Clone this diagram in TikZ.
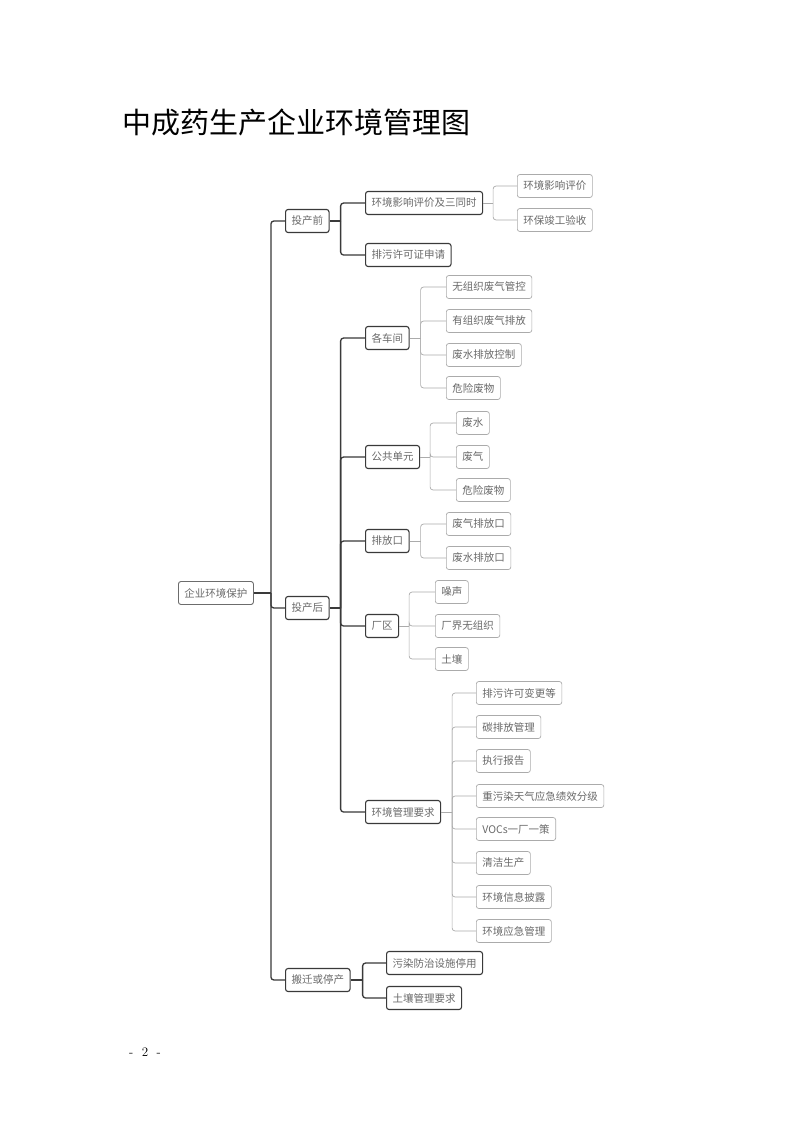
\documentclass[tikz,border=0pt]{standalone}
\usepackage{fontspec}
\newfontfamily\cjk{Noto Sans CJK SC}
\definecolor{darkline}{HTML}{3A3A3A}
\definecolor{lightline}{HTML}{ABABAB}
\definecolor{txtgray}{HTML}{6A6A6A}
\begin{document}
\begin{tikzpicture}[x=1pt,y=-1pt,
  box/.style={rounded corners=2.5pt, minimum height=23pt, inner xsep=6pt, inner ysep=0pt,
    font=\cjk\fontsize{10.5}{12}\selectfont, text=txtgray, anchor=west},
  dbox/.style={box, draw=darkline, line width=1.1pt},
  rbox/.style={box, draw=gray!85!black, line width=0.9pt},
  lbox/.style={box, draw=lightline, line width=0.7pt},
  dline/.style={draw=darkline, line width=1.3pt, rounded corners=3pt},
  lline/.style={draw=lightline, line width=0.7pt, rounded corners=3pt}]
\useasboundingbox (0,0) rectangle (793,1122);
\fill[white] (0,0) rectangle (793,1122);

% title and page number
\node[anchor=west, inner sep=0pt, font=\cjk\fontsize{29}{32}\selectfont] (title) at (122,122) {中成药生产企业环境管理图};
\node[anchor=center, inner sep=0pt, font=\fontsize{13}{15}\selectfont] (pg) at (145,1052) {-\ \ 2\ \ -};

% level 0
\node[rbox] (root) at (178,593) {企业环境保护};
% level 1
\node[dbox] (pre)  at (285,221) {投产前};
\node[dbox] (post) at (285,608) {投产后};
\node[dbox] (stop) at (285,980) {搬迁或停产};
% level 2 under pre
\node[dbox] (eia)  at (365,203) {环境影响评价及三同时};
\node[dbox] (perm) at (365,255) {排污许可证申请};
% level 3 under eia
\node[lbox] (eia1) at (517,186) {环境影响评价};
\node[lbox] (eia2) at (517,220) {环保竣工验收};
% level 2 under post
\node[dbox] (ws)   at (365,338) {各车间};
\node[dbox] (pub)  at (365,457) {公共单元};
\node[dbox] (out)  at (365,541) {排放口};
\node[dbox] (site) at (365,626) {厂区};
\node[dbox] (req)  at (365,812) {环境管理要求};
% under ws
\node[lbox] (ws1) at (446,287) {无组织废气管控};
\node[lbox] (ws2) at (446,321) {有组织废气排放};
\node[lbox] (ws3) at (446,355) {废水排放控制};
\node[lbox] (ws4) at (446,388) {危险废物};
% under pub
\node[lbox] (pub1) at (456,423) {废水};
\node[lbox] (pub2) at (456,457) {废气};
\node[lbox] (pub3) at (456,490) {危险废物};
% under out
\node[lbox] (out1) at (446,524) {废气排放口};
\node[lbox] (out2) at (446,558) {废水排放口};
% under site
\node[lbox] (site1) at (435,592) {噪声};
\node[lbox] (site2) at (435,626) {厂界无组织};
\node[lbox] (site3) at (435,659) {土壤};
% under req
\node[lbox] (r1) at (476,693) {排污许可变更等};
\node[lbox] (r2) at (476,727) {碳排放管理};
\node[lbox] (r3) at (476,761) {执行报告};
\node[lbox] (r4) at (476,796) {重污染天气应急绩效分级};
\node[lbox] (r5) at (476,829) {VOCs一厂一策};
\node[lbox] (r6) at (476,863) {清洁生产};
\node[lbox] (r7) at (476,897) {环境信息披露};
\node[lbox] (r8) at (476,931) {环境应急管理};
% under stop
\node[dbox] (s1) at (386,963) {污染防治设施停用};
\node[dbox] (s2) at (386,998) {土壤管理要求};

% connectors: straight stub from parent, rounded elbow into each child
\newcommand{\branch}[4]{% style, parent, offset, children
  \draw[#1, sharp corners] (#2.east) -- ++(#3,0);
  \foreach \c in {#4} \draw[#1] ([xshift=#3]#2.east) |- (\c.west);
}
\branch{dline}{root}{17}{pre,post,stop}
\branch{dline}{pre}{11}{eia,perm}
\branch{dline}{post}{11}{ws,pub,out,site,req}
\branch{dline}{stop}{12}{s1,s2}
\branch{lline}{eia}{10}{eia1,eia2}
\branch{lline}{ws}{11}{ws1,ws2,ws3,ws4}
\branch{lline}{pub}{10}{pub1,pub2,pub3}
\branch{lline}{out}{11}{out1,out2}
\branch{lline}{site}{10}{site1,site2,site3}
\branch{lline}{req}{11}{r1,r2,r3,r4,r5,r6,r7,r8}
\end{tikzpicture}
\end{document}
